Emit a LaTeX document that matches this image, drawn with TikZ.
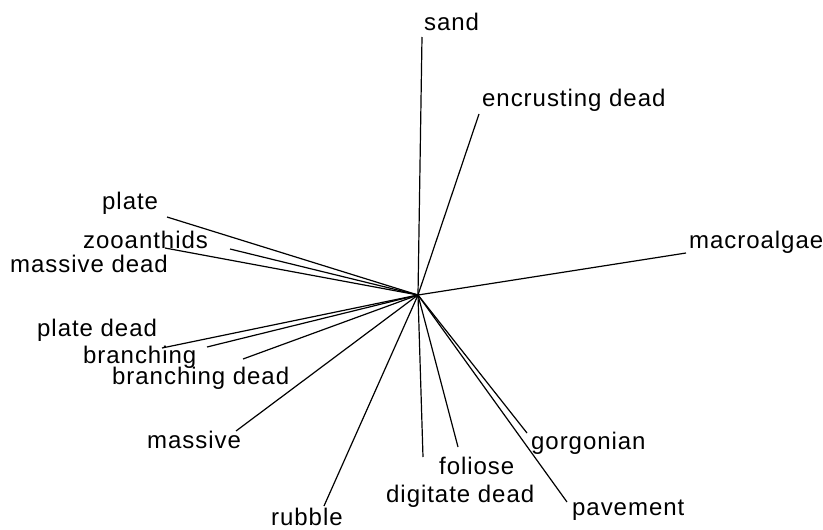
\documentclass[tikz,border=0pt]{standalone}
\usepackage{fontspec}
\setmainfont{Liberation Sans}[LetterSpace=4]
\begin{document}
\begin{tikzpicture}[x=1pt,y=-1pt,
  vec/.style={line width=1.2pt},
  lbl/.style={inner sep=0pt,anchor=west,font=\fontsize{24}{28}\selectfont}]
\useasboundingbox (0,0) rectangle (823,530);
\coordinate (c) at (418,295);
% vector tips
\coordinate (tsand) at (422,37);
\coordinate (tenc) at (479,114);
\coordinate (tmac) at (686,253);
\coordinate (tplate) at (167,217);
\coordinate (tzoo) at (230,249);
\coordinate (tmd) at (165,248);
\coordinate (tpd) at (162,348);
\coordinate (tbr) at (207,347);
\coordinate (tbd) at (243,359);
\coordinate (tmas) at (236,431);
\coordinate (trub) at (324,506);
\coordinate (tdd) at (423,457);
\coordinate (tfol) at (458,447);
\coordinate (tgor) at (527,433);
\coordinate (tpav) at (567,502);
% labels
\node[lbl] (lsand) at (424,22) {sand};
\node[lbl] (lenc) at (482,100) {encrusting dead};
\node[lbl] (lmac) at (689,242) {macroalgae};
\node[lbl] (lplate) at (102,203) {plate};
\node[lbl] (lzoo) at (83,240) {zooanthids};
\node[lbl] (lmd) at (10,264) {massive dead};
\node[lbl] (lpd) at (37,330) {plate dead};
\node[lbl] (lbr) at (83,357) {branching};
\node[lbl] (lbd) at (112,378) {branching dead};
\node[lbl] (lmas) at (147,440) {massive};
\node[lbl] (lrub) at (271,517) {rubble};
\node[lbl] (ldd) at (386,496) {digitate dead};
\node[lbl] (lfol) at (439,466) {foliose};
\node[lbl] (lgor) at (531,443) {gorgonian};
\node[lbl] (lpav) at (572,510) {pavement};
% vectors
\foreach \t in {tsand,tenc,tmac,tplate,tzoo,tmd,tpd,tbr,tbd,tmas,trub,tdd,tfol,tgor,tpav}
  \draw[vec] (c) -- (\t);
\end{tikzpicture}
\end{document}
